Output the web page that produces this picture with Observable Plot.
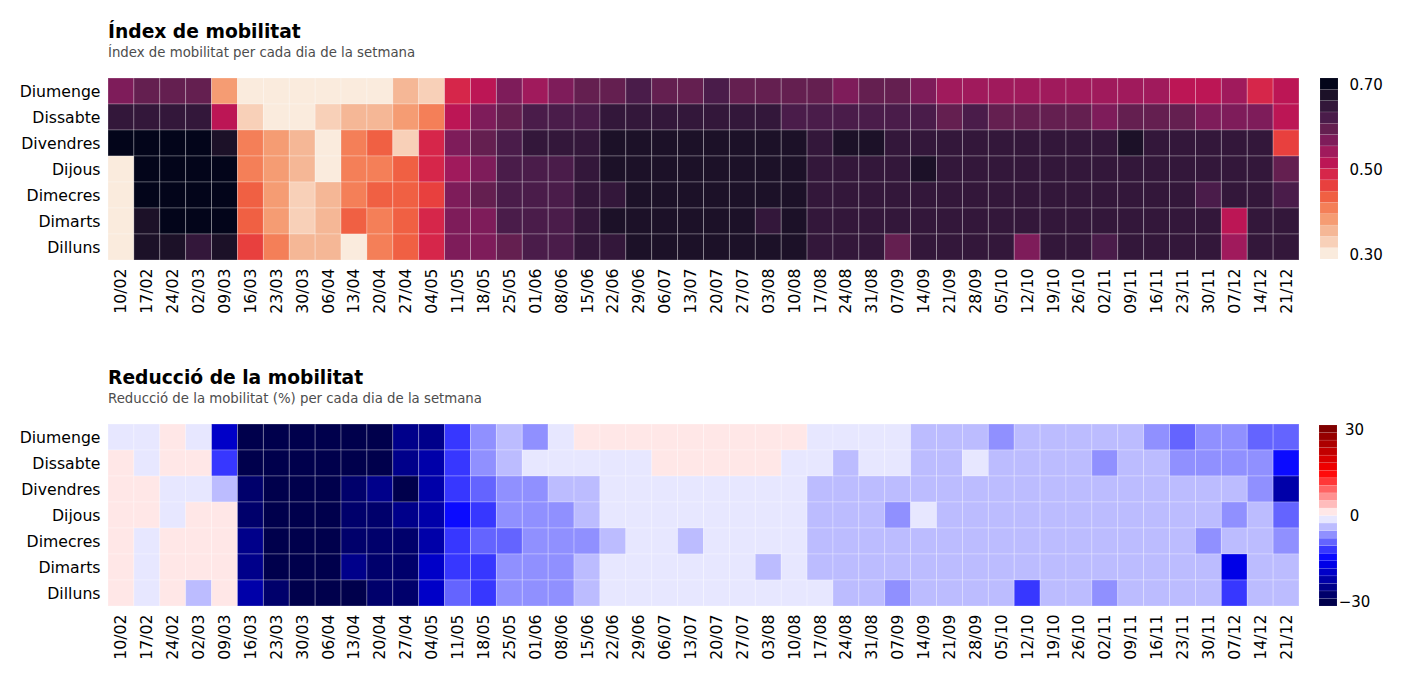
<!DOCTYPE html>
<html><head><meta charset="utf-8">
<script src="https://cdn.jsdelivr.net/npm/d3@7"></script>
<script src="https://cdn.jsdelivr.net/npm/@observablehq/plot@0.6"></script>
<style>
html,body{margin:0;padding:0;background:#fff}
body{width:1403px;height:678px;position:relative;overflow:hidden;font-family:"DejaVu Sans",sans-serif;color:#000}
.title{position:absolute;left:108px;font-weight:bold;font-size:18.7px;line-height:19px;white-space:nowrap}
.sub{position:absolute;left:108px;font-size:13.3px;line-height:14px;color:#4d4d4d;white-space:nowrap}
.abs{position:absolute}
</style></head><body>
<script>
const weeks = ["10/02","17/02","24/02","02/03","09/03","16/03","23/03","30/03","06/04","13/04","20/04","27/04","04/05","11/05","18/05","25/05","01/06","08/06","15/06","22/06","29/06","06/07","13/07","20/07","27/07","03/08","10/08","17/08","24/08","31/08","07/09","14/09","21/09","28/09","05/10","12/10","19/10","26/10","02/11","09/11","16/11","23/11","30/11","07/12","14/12","21/12"];
const days = ["Diumenge","Dissabte","Divendres","Dijous","Dimecres","Dimarts","Dilluns"];

// Índex de mobilitat (one array per day, one value per week)
const idxDiumenge  = [.57,.595,.595,.595,.38,.30,.30,.30,.30,.30,.30,.355,.33,.49,.515,.57,.54,.57,.595,.595,.62,.595,.595,.62,.595,.595,.595,.595,.57,.595,.595,.57,.54,.54,.54,.54,.54,.54,.54,.54,.54,.515,.515,.54,.49,.515];
const idxDissabte  = [.65,.65,.65,.65,.515,.33,.30,.30,.33,.355,.355,.38,.41,.515,.57,.595,.62,.62,.62,.65,.65,.65,.65,.65,.65,.65,.62,.62,.62,.62,.62,.62,.595,.62,.595,.595,.595,.595,.57,.595,.595,.595,.57,.57,.57,.515];
const idxDivendres = [.70,.70,.70,.70,.675,.41,.38,.355,.30,.41,.435,.33,.49,.57,.595,.62,.65,.65,.65,.675,.675,.675,.675,.675,.675,.675,.675,.65,.675,.675,.65,.65,.65,.65,.65,.65,.65,.65,.65,.675,.65,.65,.65,.65,.65,.46];
const idxDijous    = [.30,.70,.70,.70,.70,.41,.38,.355,.30,.41,.41,.435,.49,.54,.57,.62,.62,.62,.65,.675,.675,.675,.675,.675,.675,.675,.675,.65,.65,.65,.65,.675,.65,.65,.65,.65,.65,.65,.65,.65,.65,.65,.65,.65,.65,.595];
const idxDimecres  = [.30,.70,.70,.70,.70,.435,.38,.33,.355,.41,.435,.435,.46,.57,.595,.62,.62,.62,.65,.65,.675,.675,.675,.675,.675,.675,.675,.65,.65,.65,.65,.65,.65,.65,.65,.65,.65,.65,.65,.65,.65,.65,.62,.65,.65,.62];
const idxDimarts   = [.30,.675,.70,.70,.70,.435,.38,.33,.355,.435,.41,.435,.49,.57,.57,.62,.62,.62,.65,.675,.675,.675,.675,.675,.675,.65,.675,.65,.65,.65,.65,.65,.65,.65,.65,.65,.65,.65,.65,.65,.65,.65,.65,.515,.65,.65];
const idxDilluns   = [.30,.675,.675,.65,.675,.46,.41,.355,.355,.30,.41,.435,.49,.57,.57,.595,.62,.62,.65,.65,.675,.675,.675,.675,.675,.675,.675,.65,.65,.65,.595,.65,.65,.65,.65,.57,.65,.65,.62,.65,.65,.65,.65,.54,.65,.65];

// Reducció de la mobilitat (%)
const redDiumenge  = [-1,-1,1,-1,-19.5,-30,-30,-30,-30,-30,-30,-25,-25,-12,-6.5,-4,-6.5,-1,1,1,1,1,1,1,1,1,1,-1,-1,-1,-1,-4,-4,-4,-6.5,-4,-4,-4,-4,-4,-6.5,-9,-6.5,-6.5,-9,-9];
const redDissabte  = [1,-1,1,1,-12,-30,-30,-30,-30,-30,-30,-25,-22,-12,-6.5,-4,-1,-1,-1,-1,-1,1,1,1,1,1,-1,-1,-4,-1,-1,-4,-4,-1,-4,-4,-4,-4,-6.5,-4,-4,-6.5,-6.5,-6.5,-6.5,-14.5];
const redDivendres = [1,1,-1,-1,-4,-27.5,-30,-30,-30,-27.5,-25,-30,-22,-12,-9,-6.5,-6.5,-4,-4,-1,-1,-1,-1,-1,-1,-1,-1,-4,-4,-4,-4,-4,-4,-4,-4,-4,-4,-4,-4,-4,-4,-4,-4,-4,-6.5,-22];
const redDijous    = [1,1,-1,1,1,-27.5,-30,-30,-30,-27.5,-27.5,-25,-22,-14.5,-12,-6.5,-6.5,-6.5,-4,-1,-1,-1,-1,-1,-1,-1,-1,-4,-4,-4,-6.5,-1,-4,-4,-4,-4,-4,-4,-4,-4,-4,-4,-4,-6.5,-4,-9];
const redDimecres  = [1,-1,1,1,1,-25,-30,-30,-30,-27.5,-27.5,-27.5,-22,-12,-9,-9,-6.5,-6.5,-6.5,-4,-1,-1,-4,-1,-1,-1,-1,-4,-4,-4,-4,-4,-4,-4,-4,-4,-4,-4,-4,-4,-4,-4,-6.5,-4,-4,-6.5];
const redDimarts   = [1,-1,1,1,1,-25,-30,-30,-30,-25,-27.5,-27.5,-19.5,-12,-12,-6.5,-6.5,-6.5,-4,-1,-1,-1,-1,-1,-1,-4,-1,-4,-4,-4,-4,-4,-4,-4,-4,-4,-4,-4,-4,-4,-4,-4,-4,-17,-4,-4];
const redDilluns   = [1,-1,1,-4,1,-22,-27.5,-30,-30,-30,-27.5,-27.5,-19.5,-9,-12,-6.5,-6.5,-6.5,-4,-1,-1,-1,-1,-1,-1,-1,-1,-1,-4,-4,-6.5,-4,-4,-4,-4,-12,-4,-4,-6.5,-4,-4,-4,-4,-12,-4,-4];

// colour scales (discrete)
const idxRange = [0.289, 0.716];
const idxColors = ["#faebdd","#f8d0b8","#f5b796","#f59c73","#f47f58","#f06043","#e8403e","#d6264a","#bc1655","#a01a5c","#7e1c5a","#641f50","#4a1c4a","#33173a","#1c1128","#03051a"];
const idxTicks = [0.3, 0.5, 0.7];
const redRange = [-31.5, 31.5];
const redColors = ["#00004c","#00006b","#00008a","#0000a9","#0000c8","#0000e7","#0b0bff","#3737ff","#6464ff","#9090ff","#bcbcff","#e7e7ff","#ffe7e7","#ffbcbc","#ff9090","#ff6464","#ff3737","#ff0b0b","#ee0000","#d80000","#c20000","#ac0000","#960000","#800000"];
const redTicks = [-30, 0, 30];

const idxRows = [idxDiumenge, idxDissabte, idxDivendres, idxDijous, idxDimecres, idxDimarts, idxDilluns];
const redRows = [redDiumenge, redDissabte, redDivendres, redDijous, redDimecres, redDimarts, redDilluns];

function table(rows) {
  const out = [];
  days.forEach((d, i) => weeks.forEach((w, j) => out.push({week: w, day: d, value: rows[i][j]})));
  return out;
}
function thresholds([lo, hi], n) { return d3.range(1, n).map(i => lo + i * (hi - lo) / n); }
function bins([lo, hi], n) {
  return d3.range(n).map(i => ({lo: lo + i * (hi - lo) / n, hi: lo + (i + 1) * (hi - lo) / n, mid: lo + (i + 0.5) * (hi - lo) / n}));
}
const minus = d => d < 0 ? "\u2212" + Math.abs(d) : String(d);

function addBox(node, left, top) {
  const div = document.createElement("div");
  div.className = "abs"; div.style.left = left + "px"; div.style.top = top + "px";
  div.appendChild(node); document.body.appendChild(div);
}
function addText(cls, text, top) {
  const div = document.createElement("div");
  div.className = cls; div.textContent = text; div.style.top = top + "px";
  document.body.appendChild(div);
}

function heatmap(rows, range, colors, top) {
  const color = {type: "threshold", domain: thresholds(range, colors.length), range: colors};
  const chart = Plot.plot({
    width: 1310, height: 182 + 62,
    marginLeft: 108, marginRight: 11, marginTop: 0, marginBottom: 62,
    style: {fontFamily: "DejaVu Sans", fontSize: "15px", color: "#000", background: "transparent"},
    x: {domain: weeks, padding: 0},
    y: {domain: days, padding: 0},
    color,
    marks: [
      Plot.cell(table(rows), {x: "week", y: "day", fill: "value", stroke: "#fff", strokeOpacity: 0.28, strokeWidth: 0.9}),
      Plot.axisX({tickRotate: -90, tickSize: 0, tickPadding: 8, fontSize: 15.7, label: null}),
      Plot.axisY({tickSize: 0, tickPadding: 8, fontSize: 15.7, label: null})
    ]
  });
  addBox(chart, 0, top);
}

function colorbar(range, colors, ticks, fmt, top, left, pad, anchor) {
  const color = {type: "threshold", domain: thresholds(range, colors.length), range: colors};
  const bar = Plot.plot({
    width: 18 + 64, height: 181 + 24,
    marginLeft: 0, marginRight: 64, marginTop: 12, marginBottom: 12,
    style: {fontFamily: "DejaVu Sans", fontSize: "15px", color: "#000", background: "transparent", overflow: "visible"},
    x: {domain: [0, 1], axis: null},
    y: {domain: range},
    color,
    marks: [
      Plot.rect(bins(range, colors.length), {x1: 0, x2: 1, y1: "lo", y2: "hi", fill: "mid", stroke: "#fff", strokeOpacity: 0.15, strokeWidth: 0.6}),
      Plot.axisY({anchor: "right", ticks, tickFormat: fmt, tickSize: 0, tickPadding: pad, fontSize: 15, label: null, textAnchor: anchor})
    ]
  });
  addBox(bar, left, top - 12);
}

addText("title", "Índex de mobilitat", 22);
addText("sub", "Índex de mobilitat per cada dia de la setmana", 46);
heatmap(idxRows, idxRange, idxColors, 78);
colorbar(idxRange, idxColors, idxTicks, d => d.toFixed(2), 78, 1320, 11, "start");

addText("title", "Reducció de la mobilitat", 368);
addText("sub", "Reducció de la mobilitat (%) per cada dia de la setmana", 392);
heatmap(redRows, redRange, redColors, 424);
colorbar(redRange, redColors, redTicks, minus, 425, 1319, 17, "middle");
</script>
</body></html>
